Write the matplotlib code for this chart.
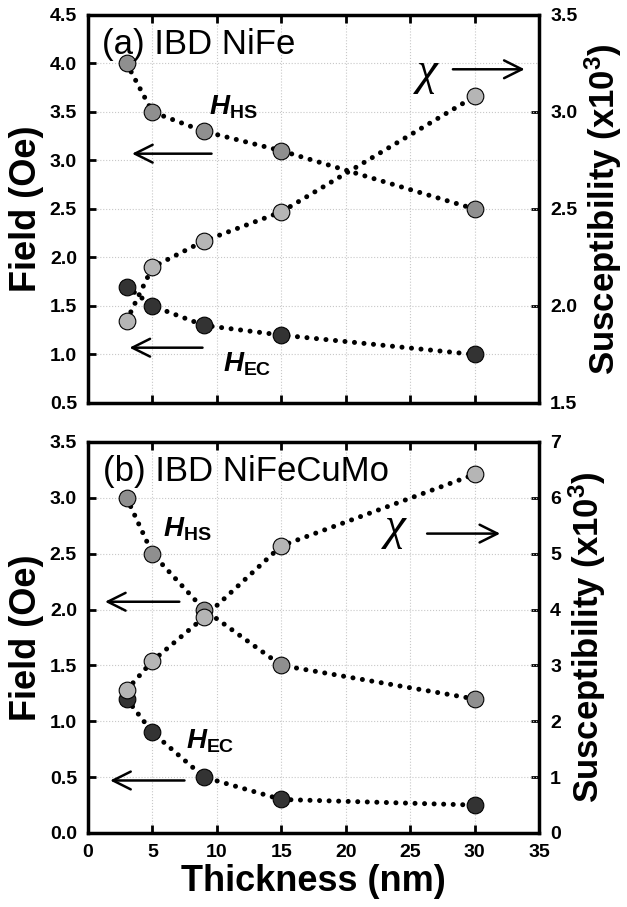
import matplotlib
matplotlib.use("Agg")
import matplotlib.pyplot as plt

plt.rcParams['font.family'] = ['Liberation Sans', 'DejaVu Sans']
plt.rcParams['mathtext.fontset'] = 'custom'
plt.rcParams['mathtext.rm'] = 'Liberation Sans:bold'
plt.rcParams['mathtext.bf'] = 'Liberation Sans:bold'
plt.rcParams['mathtext.it'] = 'Liberation Sans:bold:italic'

thickness = [3, 5, 9, 15, 30]

# (a) IBD NiFe
hs_a = [4.0, 3.5, 3.3, 3.1, 2.5]
ec_a = [1.7, 1.5, 1.3, 1.2, 1.0]
chi_a = [1.925, 2.2, 2.335, 2.485, 3.08]

# (b) IBD NiFeCuMo
hs_b = [3.0, 2.5, 2.0, 1.5, 1.2]
ec_b = [1.2, 0.9, 0.5, 0.3, 0.25]
chi_b = [2.56, 3.08, 3.86, 5.14, 6.42]

c_hs = '#8f8f8f'
c_ec = '#333333'
c_chi = '#b5b5b5'
dots = (0, (0.01, 1.9))


def series(ax, y, color):
    ax.plot(thickness, y, color='black', lw=3.6, ls=dots,
            dash_capstyle='round', zorder=2)
    ax.plot(thickness, y, ls='none', marker='o', ms=12, mfc=color,
            mec='black', mew=0.8, zorder=3)


def style(ax, ylim, yticks, fmt):
    ax.set_xlim(0, 35)
    ax.set_ylim(*ylim)
    ax.set_xticks(range(0, 36, 5))
    ax.set_yticks(yticks)
    ax.set_yticklabels([fmt % v for v in yticks])
    ax.grid(True, color='#c8c8c8', ls=':', lw=0.8)
    ax.tick_params(direction='in', width=2, length=6, labelsize=14,
                   top=True, right=False, pad=8)
    for s in ax.spines.values():
        s.set_linewidth(2.5)
    for t in ax.get_xticklabels() + ax.get_yticklabels():
        t.set_fontweight('bold')
    ax.set_ylabel('Field (Oe)', fontsize=26, fontweight='bold', labelpad=4)


def arrow(ax, x0, x1, y):
    ax.annotate('', xy=(x1, y), xytext=(x0, y),
                arrowprops=dict(arrowstyle='->', lw=1.8, color='black',
                                mutation_scale=32), zorder=4)


def right_axis(ax, ylim, yticks, fmt):
    ax2 = ax.twinx()
    ax2.set_ylim(*ylim)
    ax2.set_yticks(yticks)
    ax2.set_yticklabels([fmt % v for v in yticks])
    ax2.tick_params(direction='in', width=2, length=6, labelsize=14, pad=8)
    for t in ax2.get_yticklabels():
        t.set_fontweight('bold')
    ax2.set_ylabel(r'Susceptibility (x10$^{3}$)', fontsize=25,
                   fontweight='bold', labelpad=4)
    return ax2


fig = plt.figure(figsize=(6.27, 9.07), dpi=100)
ax_a = fig.add_axes([0.1404, 0.5557, 0.7193, 0.4278])
ax_b = fig.add_axes([0.1404, 0.0816, 0.7193, 0.4311])

# panel a
style(ax_a, (0.5, 4.5), [0.5, 1.0, 1.5, 2.0, 2.5, 3.0, 3.5, 4.0, 4.5], '%.1f')
ax_a.tick_params(labelbottom=False)
ax2_a = right_axis(ax_a, (1.5, 3.5), [1.5, 2.0, 2.5, 3.0, 3.5], '%.1f')
ax2_a.set_zorder(ax_a.get_zorder() - 1)
ax_a.patch.set_visible(False)
series(ax_a, hs_a, c_hs)
series(ax_a, ec_a, c_ec)
series(ax_a, [0.5 + (v - 1.5) * 2 for v in chi_a], c_chi)
ax_a.text(1.1, 4.2, '(a) IBD NiFe', fontsize=25, va='center')
ax_a.text(9.4, 3.47, r'$H_{\mathrm{HS}}$', fontsize=20)
ax_a.text(10.5, 0.82, r'$H_{\mathrm{EC}}$', fontsize=20)
ax_a.text(25.5, 3.9, 'χ', fontsize=34, style='italic',
          family='Liberation Serif', va='center')
arrow(ax_a, 28.1, 34.1, 3.94)
arrow(ax_a, 9.8, 3.2, 3.07)
arrow(ax_a, 9.1, 3.0, 1.07)

# panel b
style(ax_b, (0.0, 3.5), [0.0, 0.5, 1.0, 1.5, 2.0, 2.5, 3.0, 3.5], '%.1f')
ax_b.set_xlabel('Thickness (nm)', fontsize=26, fontweight='bold', labelpad=2)
ax2_b = right_axis(ax_b, (0, 7), [0, 1, 2, 3, 4, 5, 6, 7], '%d')
ax2_b.set_zorder(ax_b.get_zorder() - 1)
ax_b.patch.set_visible(False)
series(ax_b, hs_b, c_hs)
series(ax_b, ec_b, c_ec)
series(ax_b, [v / 2 for v in chi_b], c_chi)
ax_b.text(1.2, 3.24, '(b) IBD NiFeCuMo', fontsize=25, va='center')
ax_b.text(5.8, 2.65, r'$H_{\mathrm{HS}}$', fontsize=20)
ax_b.text(7.6, 0.76, r'$H_{\mathrm{EC}}$', fontsize=20)
ax_b.text(23.0, 2.73, 'χ', fontsize=34, style='italic',
          family='Liberation Serif', va='center')
arrow(ax_b, 26.1, 32.2, 2.68)
arrow(ax_b, 7.3, 1.1, 2.07)
arrow(ax_b, 7.7, 1.5, 0.47)

fig.savefig('out.png', dpi=100)
